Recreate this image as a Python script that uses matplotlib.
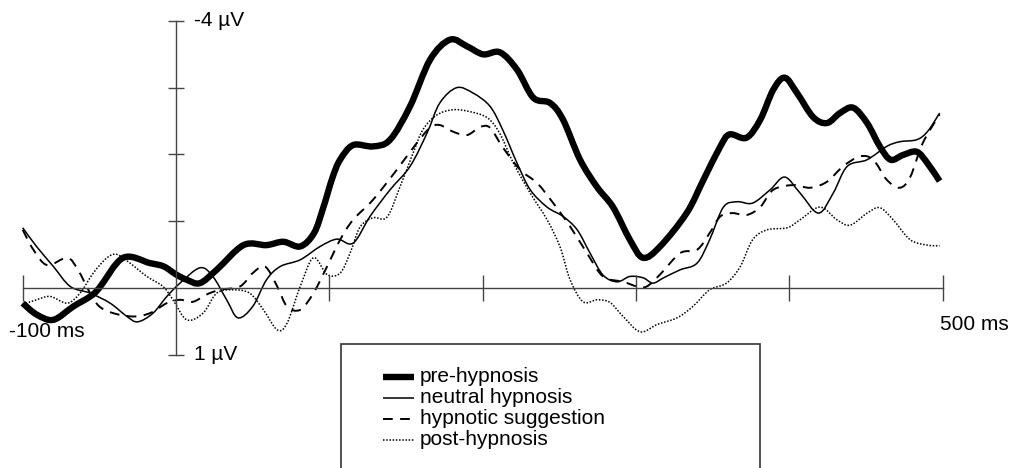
import matplotlib
matplotlib.use('Agg')
import matplotlib.pyplot as plt
from matplotlib.lines import Line2D
from matplotlib.patches import Rectangle, PathPatch
from matplotlib.path import Path

plt.rcParams['font.family'] = ['Liberation Sans', 'DejaVu Sans']

# time (ms) / amplitude (uV)
pre_t = [-100, -91, -80, -67, -56, -50, -34.5, -17, -8, 0, 7, 15.6, 26.5, 44, 59, 70, 81, 90, 96,
         102, 107, 115.5, 128.5, 139.6, 152.6, 165.7, 178.7, 189.8, 200.3, 211.3, 222.4, 233, 244,
         252.4, 263.5, 274.6, 285, 296, 304.6, 315.7, 333, 344, 355, 361, 372, 381, 389.5, 397,
         405, 415.5, 424.5, 433, 441.6, 450.7, 459, 466, 474, 483, 490, 498]
pre_v = [0.23, 0.4, 0.48, 0.28, 0.13, 0.0, -0.45, -0.37, -0.32, -0.2, -0.12, -0.07, -0.27, -0.64,
         -0.64, -0.69, -0.62, -0.82, -1.2, -1.65, -1.92, -2.14, -2.12, -2.22, -2.72, -3.42, -3.72,
         -3.62, -3.5, -3.53, -3.27, -2.85, -2.77, -2.52, -1.92, -1.51, -1.21, -0.72, -0.45, -0.62,
         -1.12, -1.62, -2.12, -2.3, -2.25, -2.52, -2.97, -3.15, -2.92, -2.56, -2.47, -2.62, -2.7,
         -2.47, -2.12, -1.92, -1.99, -2.04, -1.87, -1.6]

neutral_t = [-100, -91, -80, -69, -56, -43, -32, -25, -15, -6, 2.6, 15.6, 24, 33, 40.4, 50, 59, 68,
             81, 94, 105, 115.5, 126.5, 139.6, 152.6, 163.7, 172, 183, 193.7, 204.8, 213, 222.4,
             231, 242, 252.4, 261.6, 270, 278.5, 287.7, 296, 304.6, 311, 318, 328.8, 339.8, 348,
             357, 366, 376, 387.5, 397, 407, 419, 428.6, 437.7, 450.7, 463.5, 472, 483, 490, 498]
neutral_v = [-0.9, -0.62, -0.32, -0.02, 0.08, 0.23, 0.43, 0.51, 0.38, 0.13, -0.07, -0.3, -0.17,
             0.18, 0.45, 0.28, -0.12, -0.32, -0.42, -0.62, -0.73, -0.67, -1.07, -1.47, -1.82,
             -2.32, -2.77, -3.0, -2.92, -2.72, -2.37, -1.87, -1.47, -1.21, -1.07, -0.87, -0.52,
             -0.19, -0.09, -0.17, -0.15, -0.07, -0.15, -0.27, -0.37, -0.72, -1.21, -1.29, -1.27,
             -1.47, -1.66, -1.42, -1.12, -1.42, -1.82, -1.92, -2.12, -2.19, -2.22, -2.34, -2.62]

sugg_t = [-100, -93, -84, -71, -64, -56, -50, -41, -28, -17, -6, 2.6, 11, 20, 28.7, 41.7, 50, 58,
          66, 72.4, 81, 89.6, 98.5, 107, 115.5, 128.5, 144, 157, 165.7, 172, 180.7, 189.8, 198.3,
          204.8, 213, 224.4, 235.5, 246, 257, 268, 278.5, 291.6, 300.7, 307, 315.7, 328.8, 339.8,
          348, 355, 363, 372, 381, 389.5, 402.5, 413.6, 424.5, 435, 446, 454.7, 463.5, 472, 478.8,
          487, 498]
sugg_v = [-0.87, -0.57, -0.34, -0.45, -0.27, 0.08, 0.28, 0.38, 0.43, 0.38, 0.23, 0.18, 0.21, 0.1,
          0.03, -0.02, -0.22, -0.32, -0.02, 0.28, 0.33, 0.08, -0.32, -0.72, -1.02, -1.32, -1.77,
          -2.17, -2.4, -2.44, -2.34, -2.29, -2.41, -2.4, -2.11, -1.77, -1.57, -1.27, -0.92, -0.52,
          -0.17, -0.09, -0.02, -0.02, -0.2, -0.52, -0.57, -0.82, -1.07, -1.12, -1.09, -1.21,
          -1.47, -1.54, -1.5, -1.59, -1.82, -1.97, -1.92, -1.62, -1.5, -1.66, -2.17, -2.6]

post_t = [-100, -91, -82, -71, -62.6, -54, -45, -38.5, -30, -19, -8.5, -2, 7, 17.6, 26.5, 37, 48,
          57, 66, 72.4, 81, 89.6, 98.5, 107, 113.5, 120, 128.5, 137.6, 146, 154.6, 161, 170,
          180.7, 191.8, 203, 211, 220, 231, 242, 250.5, 257, 265.5, 274.6, 283, 291.6, 302.7,
          313.8, 326.8, 337, 348, 359, 368, 376, 385.5, 398.6, 407, 420, 431, 439.7, 450.7, 459,
          467.7, 478.8, 490, 498]
post_v = [0.25, 0.18, 0.13, 0.23, 0.08, -0.22, -0.45, -0.5, -0.37, -0.17, -0.02, 0.18, 0.48, 0.38,
          0.08, 0.03, 0.08, 0.33, 0.63, 0.53, -0.02, -0.45, -0.2, -0.22, -0.52, -0.91, -1.05,
          -1.06, -1.51, -2.02, -2.37, -2.59, -2.67, -2.64, -2.55, -2.32, -1.87, -1.42, -1.02,
          -0.61, -0.12, 0.21, 0.18, 0.22, 0.43, 0.66, 0.55, 0.45, 0.28, 0.03, -0.07, -0.32,
          -0.72, -0.87, -0.9, -1.02, -1.21, -1.02, -0.94, -1.12, -1.2, -1.02, -0.72, -0.64, -0.63]

labels = ['pre-hypnosis', 'neutral hypnosis', 'hypnotic suggestion', 'post-hypnosis']


def smooth_path(t, v):
    # draw the read points as one curve (Catmull-Rom bezier segments through each point)
    pts = list(zip(t, v))
    n = len(pts)
    verts = [pts[0]]
    codes = [Path.MOVETO]
    for i in range(n - 1):
        p0 = pts[max(i - 1, 0)]
        p1 = pts[i]
        p2 = pts[i + 1]
        p3 = pts[min(i + 2, n - 1)]
        c1 = (p1[0] + (p2[0] - p0[0]) / 6, p1[1] + (p2[1] - p0[1]) / 6)
        c2 = (p2[0] - (p3[0] - p1[0]) / 6, p2[1] - (p3[1] - p1[1]) / 6)
        verts += [c1, c2, p2]
        codes += [Path.CURVE4] * 3
    return Path(verts, codes)


W, H = 1016, 468
fig = plt.figure(figsize=(W / 100, H / 100), dpi=100)
fig.patch.set_facecolor('white')

# axes placed so that -100..500 ms and -4..1 uV land on the reference pixels
x0, x1 = 22.7, 942.7
ytop, ybot = 21.0, 354.5
ax = fig.add_axes([x0 / W, (H - ybot) / H, (x1 - x0) / W, (ybot - ytop) / H])
ax.set_xlim(-100, 500)
ax.set_ylim(1, -4)
ax.patch.set_alpha(0)

widths = [4.6, 1.1, 1.4, 1.1]
dashes = ['-', '-', (0, (5.0, 3.8)), (0, (1, 1.1))]
series = [(pre_t, pre_v), (neutral_t, neutral_v), (sugg_t, sugg_v), (post_t, post_v)]
for (t, v), lw, ls in zip(series, widths, dashes):
    ax.add_patch(PathPatch(smooth_path(t, v), fill=False, edgecolor='black', lw=lw, ls=ls,
                           capstyle='butt', joinstyle='round', clip_on=False))

axis_col = '#444444'
for s in ['top', 'right']:
    ax.spines[s].set_visible(False)
ax.spines['left'].set_position(('data', 0))
ax.spines['bottom'].set_position(('data', 0))
for s in ['left', 'bottom']:
    ax.spines[s].set_color(axis_col)
    ax.spines[s].set_linewidth(1.0)

ax.set_xticks([-100, 100, 200, 300, 400, 500])
ax.set_yticks([-4, -3, -2, -1, 1])
ax.tick_params(axis='x', direction='inout', length=19, width=1.0, color=axis_col,
               labelbottom=False)
ax.tick_params(axis='y', direction='inout', length=11.5, width=1.0, color=axis_col,
               labelleft=False)

fs = 15
ax.text(12, -4, '-4 µV', fontsize=fs, va='center', ha='left')
ax.text(12, 1, '1 µV', fontsize=fs, va='center', ha='left')
ax.text(-109, 0.65, '-100 ms', fontsize=fs, va='center', ha='left')
ax.text(498, 0.55, '500 ms', fontsize=fs, va='center', ha='left')

# legend box, cut off at the bottom of the image like the original
fig.add_artist(Rectangle((341 / W, -0.05), (760 - 341) / W, (H - 344) / H + 0.05,
                         transform=fig.transFigure, fill=False, edgecolor='#333333', lw=1.2))
rows = [377, 398, 419, 440]
for lab, lw, ls, yy in zip(labels, widths, dashes, rows):
    fig.add_artist(Line2D([383 / W, 414 / W], [(H - yy) / H] * 2, transform=fig.transFigure,
                          color='black', lw=lw, ls=ls, solid_capstyle='butt',
                          dash_capstyle='butt'))
    fig.text(420 / W, (H - yy - 5) / H, lab, fontsize=fs, va='baseline', ha='left')

fig.savefig('out.png', dpi=100, facecolor='white')
